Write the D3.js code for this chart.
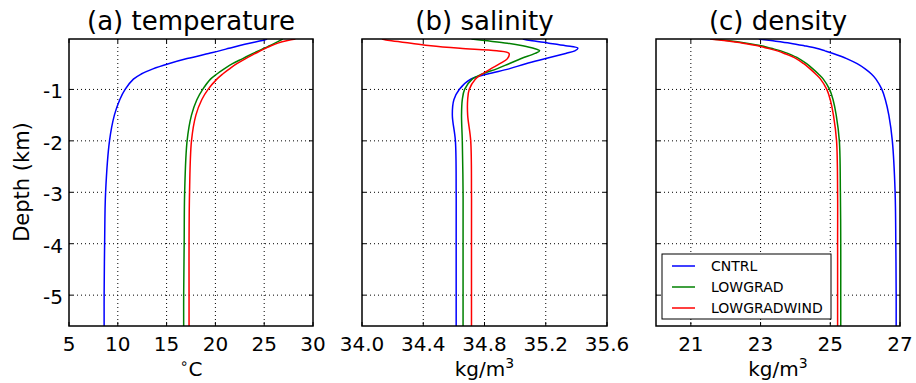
<!DOCTYPE html>
<html><head><meta charset="utf-8">
<script src="https://cdn.jsdelivr.net/npm/d3@7"></script>
<style>body{margin:0;background:#fff}svg{display:block;font-family:"DejaVu Sans",sans-serif}</style>
</head><body><svg id="c" width="916" height="383"></svg>
<script>
const seriesNames = ["CNTRL", "LOWGRAD", "LOWGRADWIND"];
const seriesColors = ["#0000ff", "#008000", "#ff0000"];
const depth = [-0.02,-0.05,-0.1,-0.15,-0.2,-0.25,-0.3,-0.4,-0.5,-0.6,-0.7,-0.8,-1.0,-1.2,-1.5,-2,-3,-4,-5,-5.6];

const tempCNTRL = [25.3,24.8,23.5,22.4,21.4,20.4,19.3,17.1,15.2,13.6,12.4,11.6,10.75,10.2,9.65,9.15,8.75,8.65,8.6,8.6];
const tempLOWGRAD = [26.9,26.6,26.1,25.55,25.0,24.4,23.85,22.8,21.75,20.9,20.15,19.5,18.7,18.1,17.55,17.1,16.85,16.8,16.75,16.75];
const tempLOWGRADWIND = [28.2,27.4,26.4,25.7,25.15,24.6,24.1,23.1,22.2,21.45,20.75,20.15,19.25,18.6,18.0,17.55,17.35,17.3,17.3,17.3];

const salCNTRL = [35.05,35.1,35.22,35.33,35.41,35.39,35.33,35.2,35.07,34.96,34.82,34.71,34.635,34.6,34.59,34.61,34.615,34.615,34.615,34.615];
const salLOWGRAD = [34.715,34.8,34.95,35.05,35.12,35.16,35.13,35.04,34.96,34.88,34.785,34.72,34.67,34.655,34.65,34.655,34.66,34.66,34.66,34.66];
const salLOWGRADWIND = [34.13,34.18,34.32,34.45,34.64,34.88,34.96,34.95,34.9,34.84,34.785,34.74,34.70,34.69,34.69,34.71,34.715,34.715,34.715,34.715];

const denCNTRL = [22.95,23.3,23.85,24.25,24.6,24.85,25.08,25.47,25.77,26.0,26.18,26.31,26.48,26.58,26.68,26.78,26.86,26.88,26.89,26.89];
const denLOWGRAD = [21.6,22.05,22.6,23.02,23.3,23.58,23.78,24.1,24.32,24.5,24.66,24.8,24.98,25.08,25.17,25.26,25.29,25.3,25.3,25.3];
const denLOWGRADWIND = [21.55,21.95,22.5,22.92,23.2,23.48,23.68,24.02,24.24,24.42,24.58,24.72,24.9,25.0,25.09,25.18,25.21,25.21,25.21,25.21];

const yTicks = [-1,-2,-3,-4,-5];
const tempTicks = [5,10,15,20,25,30];
const salTicks = [34.0,34.4,34.8,35.2,35.6];
const denTicks = [21,23,25,27];

const panels = [
  {title:"(a) temperature", x0:69, x1:313, domain:[5,30], ticks:tempTicks, fmt:d=>String(d), unit:"deg", data:[tempCNTRL,tempLOWGRAD,tempLOWGRADWIND]},
  {title:"(b) salinity", x0:362, x1:607, domain:[34.0,35.6], ticks:salTicks, fmt:d=>d.toFixed(1), unit:"kg", data:[salCNTRL,salLOWGRAD,salLOWGRADWIND]},
  {title:"(c) density", x0:656, x1:900, domain:[20,27], ticks:denTicks, fmt:d=>String(d), unit:"kg", data:[denCNTRL,denLOWGRAD,denLOWGRADWIND]}
];
const plotTop = 39, plotBottom = 326;
const svg = d3.select("#c");
const y = d3.scaleLinear().domain([0,-5.6]).range([plotTop-1, plotBottom]);

panels.forEach((p,pi)=>{
  const x = d3.scaleLinear().domain(p.domain).range([p.x0,p.x1]);
  const g = svg.append("g");
  const defs = svg.append("defs");
  defs.append("clipPath").attr("id","clip"+pi).append("rect")
    .attr("x",p.x0).attr("y",plotTop).attr("width",p.x1-p.x0).attr("height",plotBottom-plotTop);
  g.selectAll(".gx").data(p.ticks.filter(t=>t>p.domain[0]&&t<p.domain[1])).enter().append("line")
    .attr("x1",d=>x(d)).attr("x2",d=>x(d)).attr("y1",plotTop).attr("y2",plotBottom)
    .attr("stroke","#000").attr("stroke-width",1).attr("stroke-dasharray","1,3");
  g.selectAll(".gy").data(yTicks).enter().append("line")
    .attr("x1",p.x0).attr("x2",p.x1).attr("y1",d=>y(d)).attr("y2",d=>y(d))
    .attr("stroke","#000").attr("stroke-width",1).attr("stroke-dasharray","1,3");
  p.ticks.forEach(t=>{
    g.append("line").attr("x1",x(t)).attr("x2",x(t)).attr("y1",plotBottom).attr("y2",plotBottom-4).attr("stroke","#000");
    g.append("line").attr("x1",x(t)).attr("x2",x(t)).attr("y1",plotTop).attr("y2",plotTop+4).attr("stroke","#000");
  });
  yTicks.forEach(t=>{
    g.append("line").attr("x1",p.x0).attr("x2",p.x0+4).attr("y1",y(t)).attr("y2",y(t)).attr("stroke","#000");
    g.append("line").attr("x1",p.x1).attr("x2",p.x1-4).attr("y1",y(t)).attr("y2",y(t)).attr("stroke","#000");
  });
  const line = d3.line().x(d=>x(d[1])).y(d=>y(d[0])).curve(d3.curveCatmullRom.alpha(0.5));
  p.data.forEach((s,si)=>{
    g.append("path").datum(depth.map((dd,i)=>[dd,s[i]]))
      .attr("d",line).attr("fill","none").attr("stroke",seriesColors[si]).attr("stroke-width",1.5)
      .attr("clip-path","url(#clip"+pi+")");
  });
  g.append("rect").attr("x",p.x0).attr("y",plotTop).attr("width",p.x1-p.x0).attr("height",plotBottom-plotTop)
    .attr("fill","none").attr("stroke","#000").attr("stroke-width",1.5);
  g.selectAll(".tl").data(p.ticks).enter().append("text")
    .attr("x",d=>x(d)).attr("y",351).attr("text-anchor","middle").attr("font-size",20).text(p.fmt);
  g.append("text").attr("x",(p.x0+p.x1)/2).attr("y",30).attr("text-anchor","middle").attr("font-size",26).text(p.title);
  const u = g.append("text").attr("x",(p.x0+p.x1)/2).attr("y",376).attr("text-anchor","middle").attr("font-size",20);
  if(p.unit==="deg"){
    u.append("tspan").attr("font-size",14).attr("dy",-8).text("\u2218");
    u.append("tspan").attr("dy",8).text("C");
  } else {
    u.append("tspan").text("kg/m");
    u.append("tspan").attr("font-size",14).attr("dy",-8).text("3");
  }
  if(pi===0){
    g.selectAll(".yl").data(yTicks).enter().append("text")
      .attr("x",p.x0-6).attr("y",d=>y(d)+9).attr("text-anchor","end").attr("font-size",20).text(d=>String(d));
    g.append("text").attr("transform","translate(29,182) rotate(-90)").attr("text-anchor","middle")
      .attr("font-size",21).text("Depth (km)");
  }
  if(pi===2){
    const lg = g.append("g");
    lg.append("rect").attr("x",662).attr("y",254).attr("width",169).attr("height",65)
      .attr("fill","#fff").attr("stroke","#000").attr("stroke-width",1);
    seriesNames.forEach((n,i)=>{
      const yy = 266 + i*21;
      lg.append("line").attr("x1",672).attr("x2",695).attr("y1",yy).attr("y2",yy).attr("stroke",seriesColors[i]).attr("stroke-width",1.5);
      lg.append("text").attr("x",711).attr("y",yy+5).attr("font-size",14).text(n);
    });
  }
});
</script></body></html>
